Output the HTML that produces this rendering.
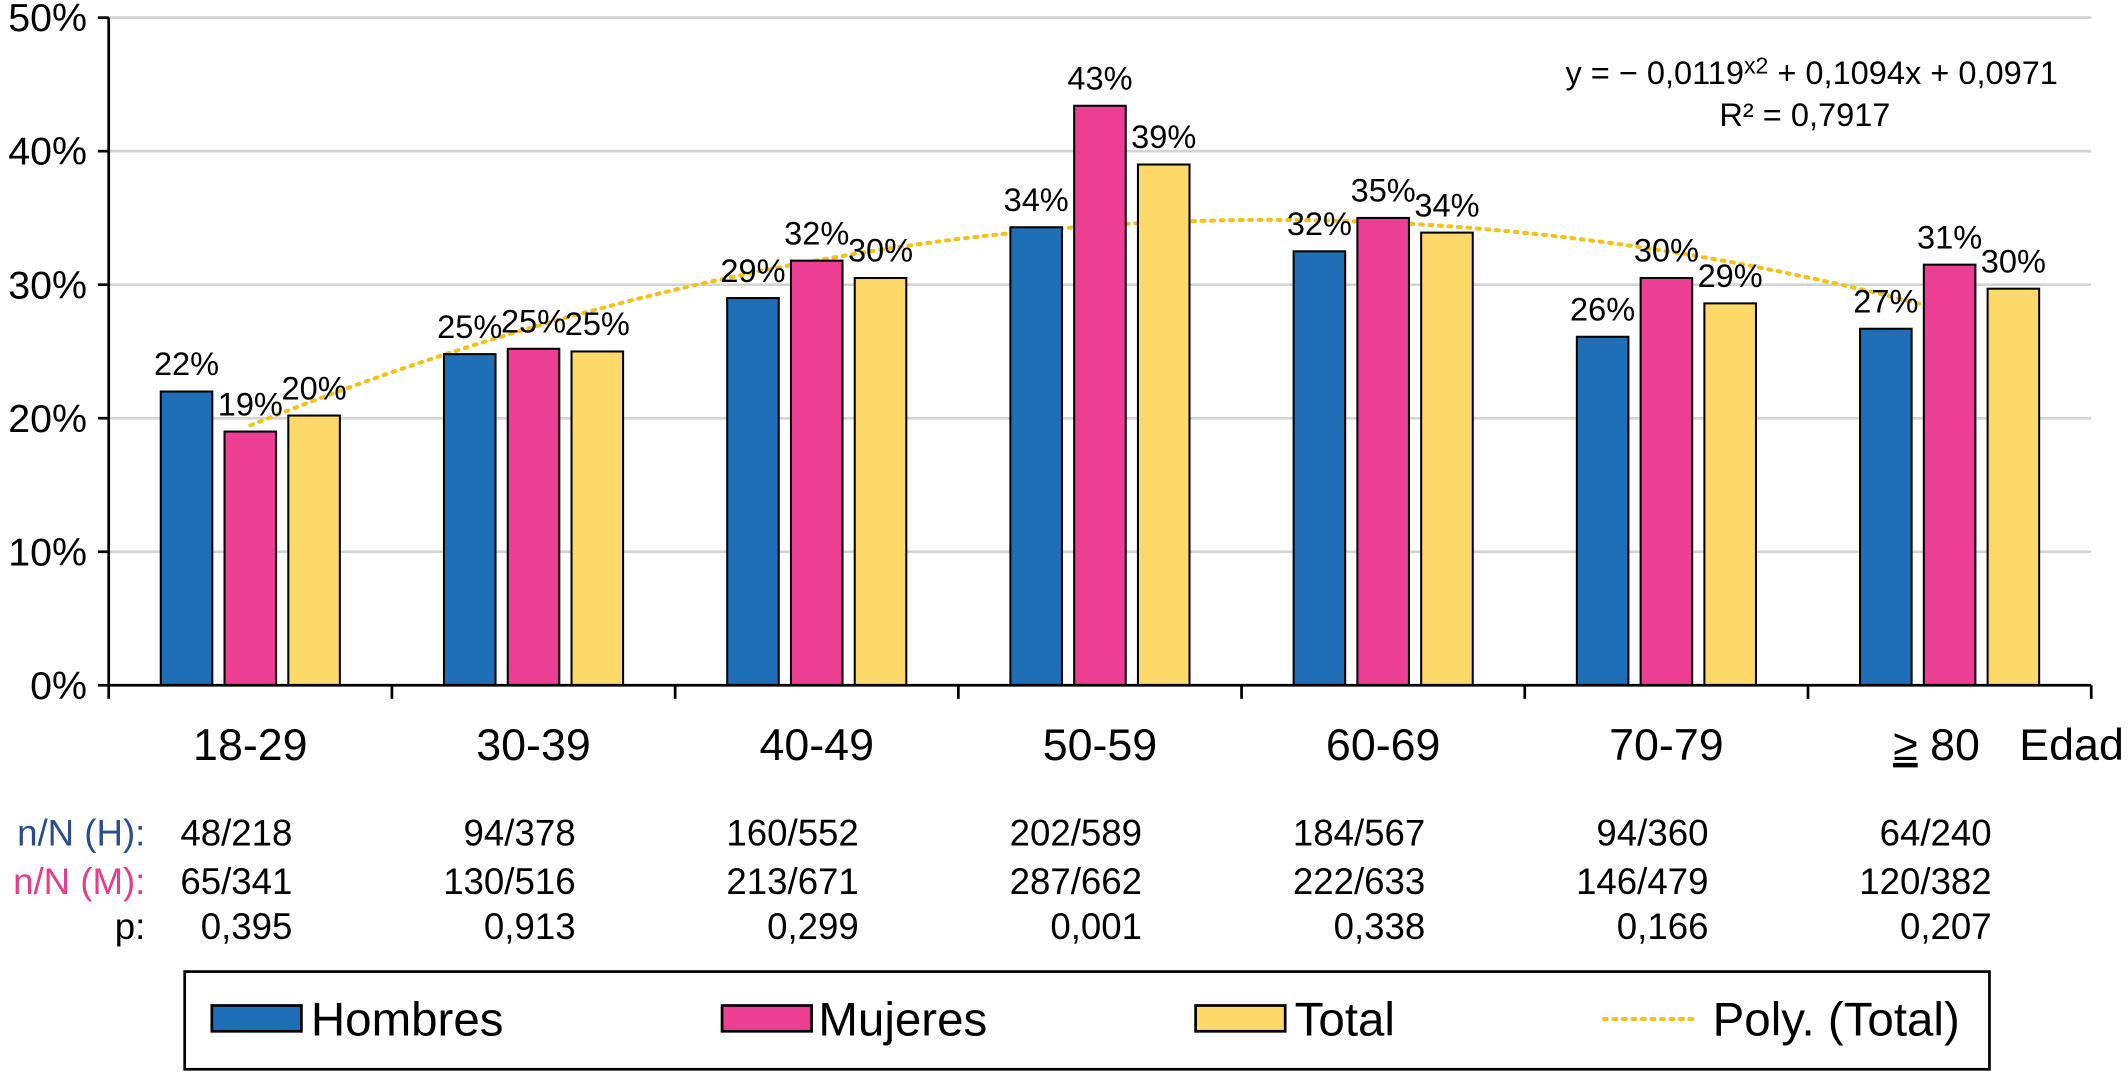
<!DOCTYPE html>
<html><head><meta charset="utf-8"><style>
html,body{margin:0;padding:0;background:#fff;}
svg{display:block;font-family:"Liberation Sans",sans-serif;}
</style></head><body>
<svg id="chart" width="2128" height="1072" viewBox="0 0 1568 790" xmlns="http://www.w3.org/2000/svg">
<g id="grid"></g>
<path id="trend" fill="none" stroke="#f2c21b" stroke-width="3" stroke-dasharray="2 5" stroke-linecap="round"/>
<g id="bars"></g>
<g id="axes"></g>
<g id="labels"></g>
<g font-size="24" text-anchor="middle">
<text x="1335" y="62">y =  − 0,0119<tspan font-size="17" dy="-8">x2</tspan><tspan dy="8"> + 0,1094x + 0,0971</tspan></text>
<text x="1330" y="93">R² = 0,7917</text>
</g>
<g id="table" font-size="27"></g>
<g>
<rect x="136" y="716" width="1330" height="72" fill="#fff" stroke="#000" stroke-width="2"/>
<rect x="156" y="741" width="66" height="19" fill="#1f6fb8" stroke="#000" stroke-width="2"/>
<text x="229" y="763" font-size="35">Hombres</text>
<rect x="532" y="741" width="66" height="19" fill="#ec3e93" stroke="#000" stroke-width="2"/>
<text x="603" y="763" font-size="35">Mujeres</text>
<rect x="881" y="741" width="66" height="19" fill="#fdd96a" stroke="#000" stroke-width="2"/>
<text x="954" y="763" font-size="35">Total</text>
<line x1="1182" y1="751" x2="1250" y2="751" stroke="#f2c21b" stroke-width="3" stroke-dasharray="2 5" stroke-linecap="round"/>
<text x="1262" y="763" font-size="35">Poly. (Total)</text>
</g>
</svg>
<script>
const categories=["18-29","30-39","40-49","50-59","60-69","70-79","≥ 80"];
const hombres=[22.0,24.8,29.0,34.3,32.5,26.1,26.7];
const mujeres=[19.0,25.2,31.8,43.4,35.0,30.5,31.5];
const total=[20.2,25.0,30.5,39.0,33.9,28.6,29.7];
const hombresLbl=["22%","25%","29%","34%","32%","26%","27%"];
const mujeresLbl=["19%","25%","32%","43%","35%","30%","31%"];
const totalLbl=["20%","25%","30%","39%","34%","29%","30%"];
const yTicks=[0,10,20,30,40,50];
const nH=["48/218","94/378","160/552","202/589","184/567","94/360","64/240"];
const nM=["65/341","130/516","213/671","287/662","222/633","146/479","120/382"];
const pVals=["0,395","0,913","0,299","0,001","0,338","0,166","0,207"];
const coef=[-0.0119,0.1094,0.0971];

const NS="http://www.w3.org/2000/svg";
const X0=80,X1=1541,Y0=505,Y50=13;
const gw=(X1-X0)/categories.length;
const y=v=>Y0-(v/50)*(Y0-Y50);
const cx=i=>X0+gw*(i+0.5);
function mk(tag,attrs,parent,txt){const e=document.createElementNS(NS,tag);for(const k in attrs)e.setAttribute(k,attrs[k]);if(txt!==undefined)e.textContent=txt;parent.appendChild(e);return e;}
const grid=document.getElementById('grid'),axes=document.getElementById('axes'),bars=document.getElementById('bars'),labels=document.getElementById('labels'),table=document.getElementById('table');
yTicks.forEach(t=>{
  if(t>0){const g=mk('line',{x1:X0,x2:X1,y1:y(t),y2:y(t),stroke:'#d4d4d4','stroke-width':2},grid);
  
  }
  const tk=mk('line',{x1:X0-8,x2:X0,y1:y(t),y2:y(t),stroke:'#000','stroke-width':2},axes);
  
  
  const tl=mk('text',{x:X0-16,y:y(t)+10,'text-anchor':'end','font-size':29},axes,t+'%');
  
  
});
const ya=mk('line',{x1:X0,x2:X0,y1:Y50,y2:Y0,stroke:'#000','stroke-width':2},axes);


const xa=mk('line',{x1:X0,x2:X1,y1:Y0,y2:Y0,stroke:'#000','stroke-width':2},axes);


for(let i=0;i<=categories.length;i++){
  const t=mk('line',{x1:X0+gw*i,x2:X0+gw*i,y1:Y0,y2:Y0+10,stroke:'#000','stroke-width':2},axes);
  
  
}
const series=[[hombres,hombresLbl,'#1f6fb8','hombres'],[mujeres,mujeresLbl,'#ec3e93','mujeres'],[total,totalLbl,'#fdd96a','total']];
const bw=38,step=47;
categories.forEach((c,i)=>{
  series.forEach((s,j)=>{
    const bx=cx(i)+(j-1)*step-bw/2;
    const r=mk('rect',{x:bx,y:y(s[0][i]),width:bw,height:Y0-y(s[0][i]),fill:s[2],stroke:'#000','stroke-width':1.5},bars);
    
    
    const l=mk('text',{x:bx+bw/2,y:y(s[0][i])-12,'text-anchor':'middle','font-size':24},labels,s[1][i]);
    
    
  });
  const isLast=i===categories.length-1;
  const cl=mk('text',{x:isLast?1395:cx(i),y:560,'text-anchor':isLast?'start':'middle','font-size':33},axes);
  
  
  if(isLast){
    const t1=mk('tspan',{'text-decoration':'underline'},cl,'≥');
    mk('tspan',{},cl,' 80');
  } else cl.textContent=c;
  const rx=cx(i)+31;
  [[nH,623],[nM,659],[pVals,692]].forEach(([arr,yy])=>{
    const tt=mk('text',{x:rx,y:yy,'text-anchor':'end'},table,arr[i]);
    
    
  });
});
const ed=mk('text',{x:1488,y:560,'font-size':33},axes,'Edad');


[["n/N (H):",623,'#2a4d8f'],["n/N (M):",659,'#e33d8e'],["p:",692,'#000']].forEach(([t,yy,col])=>{
  const e=mk('text',{x:107,y:yy,'text-anchor':'end',fill:col},table,t);
  
  
});
let d='';
for(let k=0;k<=60;k++){const xv=1+6*k/60;const v=(coef[0]*xv*xv+coef[1]*xv+coef[2])*100;const px=cx(0)+(xv-1)*gw;d+=(k?'L':'M')+px.toFixed(1)+','+y(v).toFixed(1);}
document.getElementById('trend').setAttribute('d',d);
</script>
</body></html>
